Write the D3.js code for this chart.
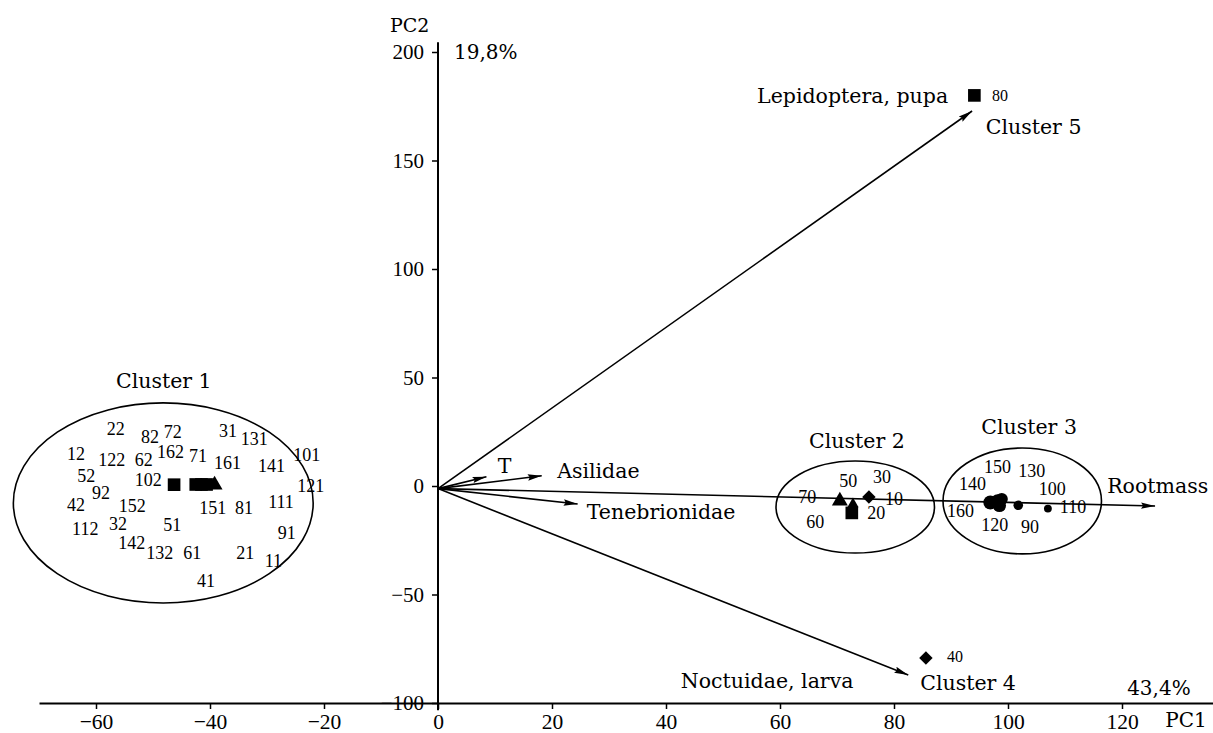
<!DOCTYPE html>
<html><head><meta charset="utf-8">
<script src="https://cdn.jsdelivr.net/npm/d3@7"></script>
<style>body{margin:0;background:#fff;} svg{display:block}</style>
</head><body><svg id="c" width="1213" height="733"></svg>
<script>
// ---- data ----
const xTicks = [-60, -40, -20, 0, 20, 40, 60, 80, 100, 120];
const yTicks = [-100, -50, 0, 50, 100, 150, 200];

const vectorNames = ["Lepidoptera, pupa", "Rootmass", "Noctuidae, larva", "T", "Asilidae", "Tenebrionidae"];
const vectorX = [93.7, 125.8, 82.5, 8.5, 18.2, 24.5];
const vectorY = [172.8, -9.2, -87.1, 4.3, 4.7, -8.3];
const vectorLabelX = [89.5, 117.4, 42.6, 10.5, 20.9, 26.1];
const vectorLabelY = [176.5, -3.2, -93.1, 6.0, 3.7, -15.2];
const vectorLabelAnchor = ["end", "start", "start", "start", "start", "start"];

const clusterNames = ["Cluster 1", "Cluster 2", "Cluster 3", "Cluster 4", "Cluster 5"];
const clusterLabelX = [-48.1, 73.5, 103.7, 84.6, 96.1];
const clusterLabelY = [45.2, 17.5, 24.0, -94.0, 162.2];
const clusterLabelAnchor = ["middle", "middle", "middle", "start", "start"];

const ellipseCX = [-48.2, 73.2, 102.5];
const ellipseCY = [-7.8, -9.7, -6.9];
const ellipseRX = [26.3, 13.9, 13.9];
const ellipseRY = [46.1, 21.2, 24.4];

const pointShape = ["square", "square", "square", "square", "triangle",
  "triangle", "triangle", "square", "diamond",
  "circle", "circle", "circle", "circle", "circle", "circle",
  "diamond", "square"];
const pointX = [-46.3, -42.5, -41.5, -40.6, -39.2,
  70.5, 72.8, 72.6, 75.6,
  96.9, 98.2, 98.9, 98.5, 101.8, 107.0,
  85.6, 94.1];
const pointY = [0.6, 0.7, 0.7, 0.7, 0.5,
  -6.9, -8.3, -12.4, -5.1,
  -7.6, -7.0, -6.0, -9.0, -8.9, -10.4,
  -79.3, 180.0];
const pointSize = [1, 1, 1, 1, 1,
  1, 0.7, 1, 1,
  1.6, 1.6, 1.4, 1.5, 1.1, 0.9,
  1, 1];

const sampleLabels = ["22", "82", "72", "31", "131", "12", "122", "62", "162", "71", "161", "141", "101",
  "52", "102", "121", "92", "42", "152", "151", "81", "111", "112", "32", "51", "91",
  "142", "132", "61", "21", "11", "41",
  "70", "50", "30", "10", "20", "60",
  "150", "130", "140", "100", "110", "160", "120", "90"];
const sampleLabelX = [-58.1, -52.1, -48.1, -38.4, -34.6, -65.1, -59.6, -53.2, -49.3, -43.7, -39.3, -31.6, -25.4,
  -63.3, -53.2, -24.7, -60.7, -65.1, -56.0, -41.9, -35.6, -29.8, -64.2, -57.7, -48.2, -28.1,
  -56.1, -51.2, -44.7, -35.4, -30.4, -42.3,
  63.2, 70.4, 76.3, 78.4, 75.3, 64.6,
  95.8, 101.8, 91.4, 105.4, 109.1, 89.3, 95.3, 102.3];
const sampleLabelY = [23.5, 19.8, 22.1, 22.6, 18.9, 12.0, 9.2, 9.2, 12.9, 11.1, 7.8, 6.5, 11.5,
  1.8, 0.0, -2.8, -6.0, -11.5, -12.0, -12.9, -12.9, -10.1, -22.6, -20.3, -20.7, -24.4,
  -29.0, -33.6, -33.6, -33.6, -37.3, -46.5,
  -7.8, -0.5, 1.4, -8.8, -15.2, -19.4,
  6.0, 4.1, -1.8, -4.1, -12.4, -14.3, -20.7, -21.7];

const outlierLabels = ["80", "40"];
const outlierLabelX = [97.2, 89.3];
const outlierLabelY = [177.6, -81.1];

const percentLabels = ["19,8%", "43,4%"];
const percentX = [2.8, 120.9];
const percentY = [196.8, -96.3];

// ---- scales ----
const svg = d3.select("#c");
const x = d3.scaleLinear().domain([-70, 136]).range([39, 1213.2]);
const y = d3.scaleLinear().domain([-100, 200]).range([703, 52]);
const serif = "'Liberation Serif', serif";
const labFont = "'DejaVu Serif', serif";

// ---- axes ----
const xAxis = svg.append("g").attr("transform", `translate(0,${y(-100)})`)
  .call(d3.axisBottom(x).tickValues(xTicks).tickSize(6).tickSizeOuter(0).tickFormat(d => d < 0 ? "\u2212" + Math.abs(d) : d));
xAxis.select(".domain").attr("stroke-width", 2);
xAxis.selectAll(".tick line").attr("stroke-width", 1.5);
xAxis.selectAll(".tick text").attr("font-family", serif).attr("font-size", 21.5).attr("fill", "#000").attr("dy", null).attr("y", 26);

const yAxis = svg.append("g").attr("transform", `translate(${x(0)},0)`)
  .call(d3.axisLeft(y).tickValues(yTicks).tickSize(6).tickSizeOuter(0).tickPadding(8).tickFormat(d => d < 0 ? "\u2212" + Math.abs(d) : d));
yAxis.select(".domain").remove();
yAxis.selectAll(".tick line").attr("stroke-width", 1.5);
yAxis.selectAll(".tick text").attr("font-family", serif).attr("font-size", 21).attr("fill", "#000");
svg.append("line").attr("x1", x(0)).attr("x2", x(0)).attr("y1", y(-103.3)).attr("y2", y(204.5))
  .attr("stroke", "#000").attr("stroke-width", 2);

svg.append("text").attr("x", x(0) - 48).attr("y", y(200) - 20).text("PC2")
  .attr("font-family", labFont).attr("font-size", 19);
svg.append("text").attr("x", x(127.6)).attr("y", y(-100) + 24).text("PC1")
  .attr("font-family", labFont).attr("font-size", 20);

// ---- arrows ----
svg.append("defs").append("marker").attr("id", "ah")
  .attr("markerUnits", "userSpaceOnUse").attr("markerWidth", 16).attr("markerHeight", 10)
  .attr("refX", 14).attr("refY", 5).attr("orient", "auto")
  .append("path").attr("d", "M0,1.8 L14,5 L0,8.2 L2,5 Z").attr("fill", "#000");

svg.append("g").selectAll("line").data(vectorX).join("line")
  .attr("x1", x(0)).attr("y1", y(-1.2))
  .attr("x2", (d) => x(d)).attr("y2", (d, i) => y(vectorY[i]))
  .attr("stroke", "#000").attr("stroke-width", 1.6).attr("marker-end", "url(#ah)");

svg.append("g").selectAll("text").data(vectorNames).join("text")
  .attr("x", (d, i) => x(vectorLabelX[i])).attr("y", (d, i) => y(vectorLabelY[i]))
  .attr("text-anchor", (d, i) => vectorLabelAnchor[i])
  .attr("font-family", labFont).attr("font-size", 20.5).text(d => d);

// ---- ellipses ----
svg.append("g").selectAll("ellipse").data(ellipseCX).join("ellipse")
  .attr("cx", d => x(d)).attr("cy", (d, i) => y(ellipseCY[i]))
  .attr("rx", (d, i) => x(ellipseRX[i]) - x(0)).attr("ry", (d, i) => y(0) - y(ellipseRY[i]))
  .attr("fill", "none").attr("stroke", "#000").attr("stroke-width", 1.6);

svg.append("g").selectAll("text").data(clusterNames).join("text")
  .attr("x", (d, i) => x(clusterLabelX[i])).attr("y", (d, i) => y(clusterLabelY[i]))
  .attr("text-anchor", (d, i) => clusterLabelAnchor[i])
  .attr("font-family", labFont).attr("font-size", 20.5).text(d => d);

// ---- points ----
const symType = { square: d3.symbolSquare, triangle: d3.symbolTriangle, diamond: d3.symbolSquare, circle: d3.symbolCircle };
const baseArea = { square: 160, triangle: 110, diamond: 90, circle: 60 };
svg.append("g").selectAll("path").data(pointX).join("path")
  .attr("d", (d, i) => d3.symbol(symType[pointShape[i]], baseArea[pointShape[i]] * pointSize[i] * pointSize[i])())
  .attr("transform", (d, i) => `translate(${x(d)},${y(pointY[i])})` + (pointShape[i] === "diamond" ? " rotate(45)" : ""))
  .attr("fill", "#000");

// ---- labels ----
svg.append("g").selectAll("text").data(sampleLabels).join("text")
  .attr("x", (d, i) => x(sampleLabelX[i])).attr("y", (d, i) => y(sampleLabelY[i]))
  .attr("font-family", serif).attr("font-size", 18).text(d => d);

svg.append("g").selectAll("text").data(outlierLabels).join("text")
  .attr("x", (d, i) => x(outlierLabelX[i])).attr("y", (d, i) => y(outlierLabelY[i]))
  .attr("font-family", serif).attr("font-size", 16).text(d => d);

svg.append("g").selectAll("text").data(percentLabels).join("text")
  .attr("x", (d, i) => x(percentX[i])).attr("y", (d, i) => y(percentY[i]))
  .attr("font-family", labFont).attr("font-size", 20).text(d => d);
</script>
</body></html>
